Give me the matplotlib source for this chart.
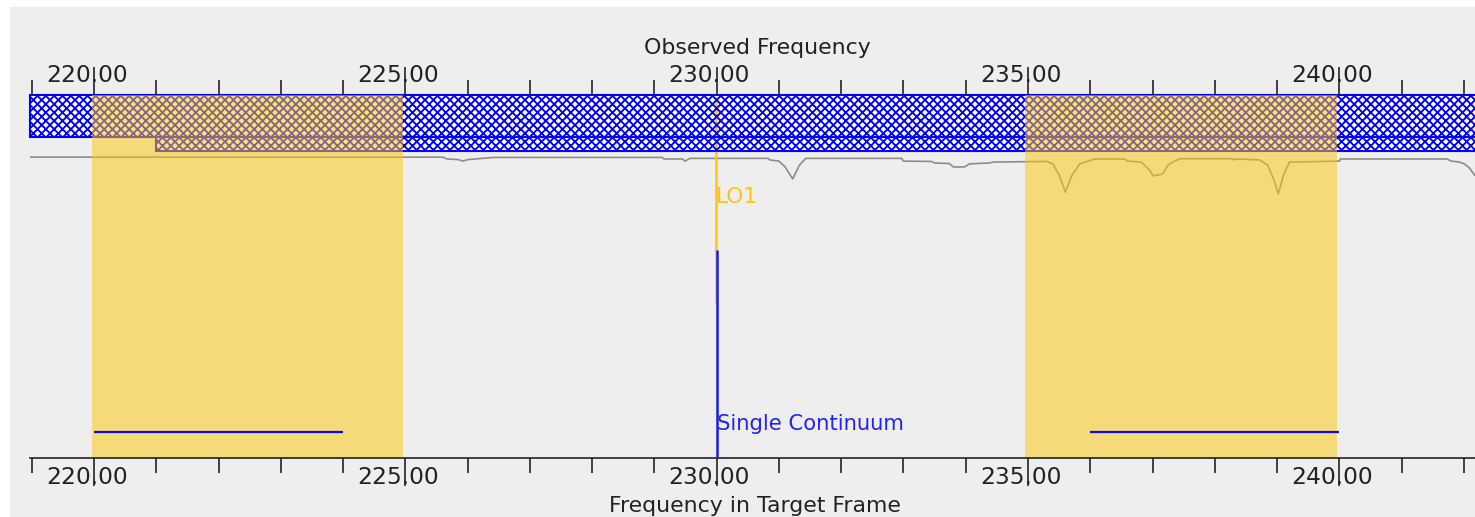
import matplotlib
matplotlib.use("Agg")
import matplotlib.pyplot as plt
from matplotlib.patches import Rectangle
from matplotlib.ticker import FixedLocator, MultipleLocator, FixedFormatter
from matplotlib import transforms

# ---------------- data ----------------
major_ticks = [220, 225, 230, 235, 240]
tick_labels = ["220.00", "225.00", "230.00", "235.00", "240.00"]

# atmospheric transmission curve (GHz, fraction)
trans_freq = [218.97, 225.60, 225.67, 225.85, 225.92, 226.00, 226.24, 226.40,
              229.13, 229.15, 229.45, 229.49, 229.57, 230.83, 230.85, 231.00,
              231.10, 231.22, 231.33, 231.43, 232.97, 233.00, 233.45, 233.50,
              233.74, 233.80, 233.98, 234.06, 234.38, 234.45, 235.30, 235.40,
              235.50, 235.60, 235.70, 235.83, 236.07, 236.55, 236.60, 236.82,
              236.95, 237.01, 237.16, 237.25, 237.35, 237.45, 238.28, 238.31,
              238.36, 238.72, 238.85, 238.95, 239.02, 239.10, 239.20, 240.00,
              240.02, 241.73, 241.80, 241.93, 242.01, 242.09, 242.17]
trans_vals = [0.980, 0.980, 0.974, 0.972, 0.967, 0.972, 0.976, 0.979,
              0.979, 0.974, 0.974, 0.967, 0.976, 0.976, 0.971, 0.967,
              0.948, 0.909, 0.954, 0.976, 0.976, 0.967, 0.966, 0.961,
              0.959, 0.948, 0.948, 0.958, 0.961, 0.964, 0.966, 0.958,
              0.922, 0.866, 0.919, 0.958, 0.974, 0.974, 0.967, 0.964,
              0.938, 0.919, 0.925, 0.954, 0.967, 0.975, 0.975, 0.971,
              0.974, 0.971, 0.954, 0.906, 0.860, 0.919, 0.964, 0.967,
              0.974, 0.974, 0.967, 0.964, 0.958, 0.945, 0.922]

receiver_band = (218.97, 243.0)       # upper hatched band
sideband_cover = (221.0, 243.0)       # lower hatched strip
sidebands = [(219.96, 224.96), (234.96, 239.96)]   # yellow regions
spectral_windows = [(220.0, 224.0), (236.0, 240.0)]  # blue lines
lo1_freq = 229.99
continuum_freq = 230.01

# ---------------- style ----------------
BG = "#EEEEEE"
BLUE = "#0000FF"
TXT_BLUE = "#2222FF"
GOLD = "#FFC314"
YELLOW = (1.0, 0.78, 0.06)
DARK = "#222222"
plt.rcParams["hatch.linewidth"] = 1.35
plt.rcParams["font.family"] = ["DejaVu Sans"]

W, H = 1475, 517
fig = plt.figure(figsize=(W / 100, H / 100), dpi=100, facecolor="white")
fig.patches.append(Rectangle((10 / W, 0), 1, 1 - 7 / H, transform=fig.transFigure,
                             facecolor=BG, edgecolor="none", zorder=-10))

ax = fig.add_axes([30 / W, (H - 458) / H, 1 - 30 / W, (458 - 95) / H])
ax.set_facecolor("none")
ax.set_xlim(218.97, 242.18)
ax.set_ylim(0, 1.1824)
xt = ax.get_xaxis_transform()

# transmission curve
ax.plot(trans_freq, trans_vals, color="#8C8C8C", lw=1.2, zorder=1)

# hatched band: white face, then LO line, then hatch on top
y_div, y_bot = 0.8843, 0.8457
for (a, b), (y0, y1) in [(receiver_band, (y_div, 1.0)), (sideband_cover, (y_bot, y_div))]:
    ax.add_patch(Rectangle((a, y0), b - a, y1 - y0, transform=xt, facecolor="white",
                           edgecolor="none", zorder=1.5, clip_on=False))
    ax.add_patch(Rectangle((a, y0), b - a, y1 - y0, transform=xt, facecolor="none",
                           edgecolor=BLUE, hatch="xxxx", lw=1.5, zorder=1.9, clip_on=False))

# LO1 line
ax.plot([lo1_freq, lo1_freq], [0.427, 0.9945], transform=xt, color=GOLD, lw=1.8,
        zorder=1.7, solid_capstyle="butt")
ax.text(lo1_freq, 0.7025, "LO1", transform=xt, color=GOLD, fontsize=15.6,
        ha="left", va="baseline", zorder=6)

# yellow sideband overlays
for a, b in sidebands:
    ax.axvspan(a, b, ymin=0, ymax=1, facecolor=YELLOW, alpha=0.53, lw=0, zorder=2.0)

# continuum line and spectral windows
ax.plot([continuum_freq, continuum_freq], [0, 0.573], transform=xt, color="#1A1AF0",
        lw=1.8, zorder=6, solid_capstyle="butt")
ax.text(continuum_freq, 0.077, "Single Continuum", transform=xt, color=TXT_BLUE,
        fontsize=15.2, ha="left", va="baseline", zorder=6)
for a, b in spectral_windows:
    ax.plot([a, b], [0.073, 0.073], transform=xt, color="#0A0AF0", lw=1.6, zorder=6,
            solid_capstyle="butt")

# axes / ticks
for s in ["left", "right", "top"]:
    ax.spines[s].set_visible(False)
ax.spines["bottom"].set_color(DARK)
ax.spines["bottom"].set_linewidth(1.2)
ax.set_axisbelow(False)
ax.yaxis.set_visible(False)
ax.xaxis.set_major_locator(FixedLocator(major_ticks))
ax.xaxis.set_major_formatter(FixedFormatter(tick_labels))
ax.xaxis.set_minor_locator(MultipleLocator(1))
ax.tick_params(axis="x", which="both", direction="out", top=True, bottom=True,
               labeltop=True, labelbottom=True, colors=DARK, width=1.2)
ax.tick_params(axis="x", which="major", length=20.2, pad=-14.3, labelsize=16.8)
ax.tick_params(axis="x", which="minor", length=10.8)

offset = transforms.ScaledTranslation(-7.5 / 100, 0, fig.dpi_scale_trans)
for t in ax.xaxis.get_major_ticks():
    t.label1.set_transform(t.label1.get_transform() + offset)
    t.label2.set_transform(t.label2.get_transform() + offset)

fig.text(757 / W, 1 - 54 / H, "Observed Frequency", ha="center", va="baseline",
         fontsize=15.8, color=DARK)
fig.text(755 / W, 1 - 512 / H, "Frequency in Target Frame", ha="center", va="baseline",
         fontsize=15.8, color=DARK)

fig.savefig("out.png", dpi=100, facecolor="white")
